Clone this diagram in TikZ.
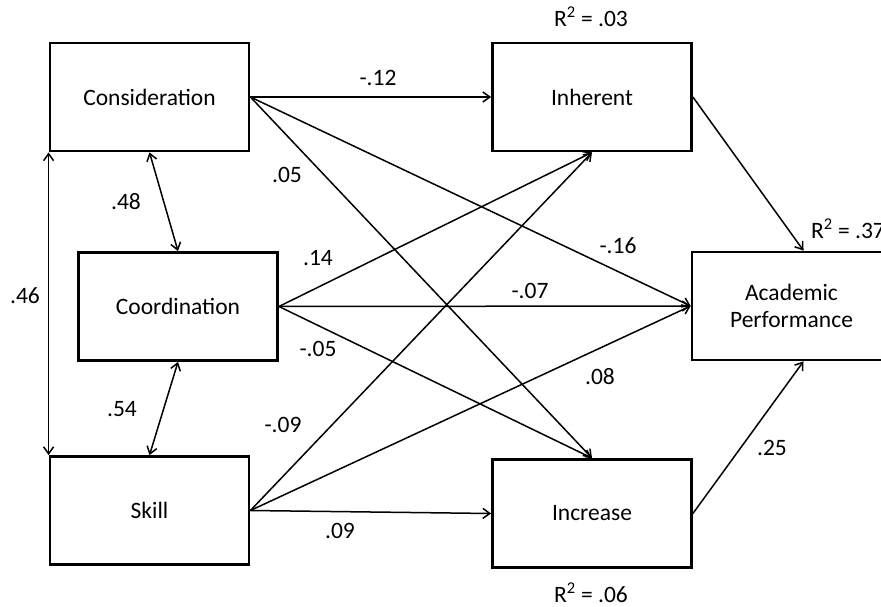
\documentclass[tikz,border=0pt]{standalone}
\usepackage{fontspec}
\setmainfont{Carlito}
\usetikzlibrary{arrows.meta}

\begin{document}
\begin{tikzpicture}[x=1pt,y=-1pt,
    box/.style={draw,line width=2.8pt,minimum width=199pt,minimum height=108pt,align=center,inner sep=0pt},
    arr/.style={line width=1.5pt,-{Straight Barb[length=7pt,width=10pt]}},
    both/.style={line width=1.5pt,{Straight Barb[length=7pt,width=10pt]}-{Straight Barb[length=7pt,width=10pt]}},
    lbl/.style={inner sep=0pt},
    font=\fontsize{23.5}{27}\selectfont]
            \useasboundingbox (0,0) rectangle (881,607);
            \node[box] (A) at (149.5,97) {Consideration};
            \node[box] (B) at (178,306.5) {Coordination};
            \node[box] (S) at (149.5,510.5) {Skill};
            
            \node[box] (I) at (592,97) {Inherent};
            \node[box] (N) at (592,513.5) {Increase};
            \node[box] (P) at (791.5,306) {Academic\\Performance};
            
            \coordinate (PT) at ([xshift=12pt]P.north);
            \coordinate (PB) at ([xshift=12pt]P.south);
            
            \node[lbl] (r1) at (591,17) {R\textsuperscript{2} = .03};
            \node[lbl] (r2) at (848,229) {R\textsuperscript{2} = .37};
            \node[lbl] (r3) at (591,593) {R\textsuperscript{2} = .06};
            
            \draw[both] (A.south west) -- (S.north west);
            \draw[both] (A.south) -- (B.north);
            \draw[both] (B.south) -- (S.north);
            
            \draw[arr] (A.east) -- (I.west);
            \draw[arr] (A.east) -- (P.west);
            \draw[arr] (A.east) -- (N.north);
            \draw[arr] (B.east) -- (I.south);
            \draw[arr] (B.east) -- (P.west);
            \draw[arr] (B.east) -- (N.north);
            \draw[arr] (S.east) -- (I.south);
            \draw[arr] (S.east) -- (P.west);
            \draw[arr] (S.east) -- (N.west);
            \draw[arr] (I.east) -- (PT);
            \draw[arr] (N.east) -- (PB);
            
            \node[lbl] (e1) at (25,296) {.46};
            \node[lbl] (e2) at (126,202) {.48};
            \node[lbl] (e3) at (122,409) {.54};
            \node[lbl] (e4) at (378,78) {-.12};
            \node[lbl] (e5) at (287,175) {.05};
            \node[lbl] (e6) at (618,246) {-.16};
            \node[lbl] (e7) at (318,258) {.14};
            \node[lbl] (e8) at (530,291) {-.07};
            \node[lbl] (e9) at (318,349) {-.05};
            \node[lbl] (e10) at (600,377) {.08};
            \node[lbl] (e11) at (283,425) {-.09};
            \node[lbl] (e12) at (340,531) {.09};
            \node[lbl] (e13) at (772,448) {.25};
          \end{tikzpicture}
\end{document}
